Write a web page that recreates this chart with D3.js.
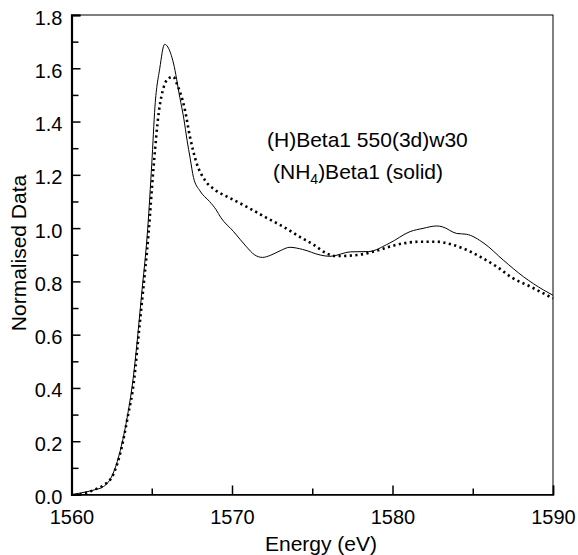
<!DOCTYPE html>
<html>
<head>
<meta charset="utf-8">
<script src="https://cdnjs.cloudflare.com/ajax/libs/d3/7.8.5/d3.min.js"></script>
<style>
  body { margin:0; background:#fff; }
  svg text { font-family:"Liberation Sans", Arial, Helvetica, sans-serif; fill:#000; }
</style>
</head>
<body>
<div id="vis"></div>
<script>
// energy (eV) / normalised absorbance
var solidE = [1560.0,1560.5,1561.4,1562.0,1562.6,1563.1,1563.5,1563.85,1564.1,1564.35,1564.75,1565.0,1565.2,1565.5,1565.8,1566.0,1566.35,1566.75,1567.0,1567.2,1567.4,1567.6,1568.0,1568.6,1569.0,1569.3,1570.1,1570.9,1571.4,1571.9,1572.4,1573.0,1573.6,1574.4,1575.5,1576.1,1577.4,1578.5,1579.8,1581.1,1581.9,1582.75,1583.1,1584.0,1584.6,1585.7,1586.9,1588.15,1589.4,1590.0]
var solidV = [0.0,0.005,0.017,0.03,0.08,0.18,0.3,0.44,0.58,0.74,1.0,1.24,1.456,1.6,1.69,1.68,1.62,1.49,1.41,1.33,1.26,1.19,1.14,1.1,1.07,1.04,0.987,0.93,0.9,0.89,0.898,0.915,0.928,0.92,0.899,0.894,0.911,0.912,0.943,0.987,0.999,1.008,1.005,0.98,0.977,0.943,0.88,0.818,0.768,0.748]

var dotE = [1560.5,1561.0,1561.5,1562.0,1562.6,1563.1,1563.5,1563.9,1564.15,1564.4,1564.8,1565.1,1565.45,1565.75,1566.0,1566.35,1566.55,1567.07,1567.38,1567.8,1568.3,1568.95,1569.7,1570.7,1571.1,1572.2,1573.2,1574.2,1575.1,1575.9,1576.5,1577.8,1579.0,1579.8,1580.7,1581.7,1582.75,1583.6,1584.4,1585.45,1586.5,1587.5,1588.6,1590.0]
var dotV = [0.0,0.008,0.02,0.035,0.075,0.17,0.29,0.43,0.58,0.73,0.98,1.22,1.44,1.53,1.56,1.568,1.544,1.443,1.343,1.243,1.181,1.143,1.118,1.087,1.074,1.037,1.005,0.968,0.937,0.905,0.895,0.899,0.915,0.93,0.943,0.949,0.949,0.94,0.924,0.893,0.855,0.812,0.78,0.736]

var xMajor = [1560,1570,1580,1590]
var xMinor = [1565,1575,1585]
var yMajor = [0,0.2,0.4,0.6,0.8,1.0,1.2,1.4,1.6,1.8]
var yMinor = [0.1,0.3,0.5,0.7,0.9,1.1,1.3,1.5,1.7]
var notes = ["(H)Beta1 550(3d)w30", "(NH", "4", ")Beta1 (solid)"]

var width = 578, height = 555
var x = d3.scaleLinear().domain([1560,1590]).range([71.5,553])
var y = d3.scaleLinear().domain([0,1.8]).range([494.5,15])

var svg = d3.select("#vis").append("svg")
    .attr("width",width).attr("height",height)

//frame, top and right thin
svg.append("rect")
    .attr("x",x(1560)).attr("y",y(1.8))
    .attr("width",x(1590)-x(1560)).attr("height",y(0)-y(1.8))
    .attr("fill","none").attr("stroke","#000").attr("stroke-width",1)

//x axis
var xAxis = svg.append("g").attr("transform","translate(0,"+y(0)+")")
    .call(d3.axisBottom(x).tickValues(xMajor).tickSize(-9).tickPadding(15).tickFormat(d3.format("d")))
xAxis.select(".domain").attr("stroke-width",1.5)
xAxis.selectAll(".tick line").attr("stroke-width",1.5)
xAxis.selectAll("text").attr("font-size",20).attr("font-family",null)
svg.append("g").attr("transform","translate(0,"+y(0)+")")
    .call(d3.axisBottom(x).tickValues(xMinor).tickSize(-6).tickFormat(""))
    .call(function(g){ g.select(".domain").remove(); g.selectAll(".tick line").attr("stroke-width",1.5) })

//y axis
var yAxis = svg.append("g").attr("transform","translate("+x(1560)+",0)")
    .call(d3.axisLeft(y).tickValues(yMajor).tickSize(-9).tickPadding(9).tickFormat(d3.format(".1f")))
yAxis.select(".domain").attr("stroke-width",2.2)
yAxis.selectAll(".tick line").attr("stroke-width",1.5)
yAxis.selectAll("text").attr("font-size",20).attr("font-family",null).attr("dy","0.45em")
svg.append("g").attr("transform","translate("+x(1560)+",0)")
    .call(d3.axisLeft(y).tickValues(yMinor).tickSize(-7).tickFormat(""))
    .call(function(g){ g.select(".domain").remove(); g.selectAll(".tick line").attr("stroke-width",1.5) })

//axis titles
svg.append("text").attr("x",321).attr("y",551)
    .attr("text-anchor","middle").attr("font-size",21)
    .text("Energy (eV)")
svg.append("text")
    .attr("transform","translate(26,253) rotate(-90)")
    .attr("text-anchor","middle").attr("font-size",21)
    .text("Normalised Data")

//curves
var line = d3.line()
    .x(function(d){ return x(d[0]) })
    .y(function(d){ return y(d[1]) })
    .curve(d3.curveMonotoneX)

var dotData = dotE.map(function(e,i){ return [e,dotV[i]] })
var solidData = solidE.map(function(e,i){ return [e,solidV[i]] })

svg.append("path").datum(dotData)
    .attr("d",line).attr("fill","none")
    .attr("stroke","#000").attr("stroke-width",2.6)
    .attr("stroke-dasharray","2.2,3.4")

svg.append("path").datum(solidData)
    .attr("d",line).attr("fill","none")
    .attr("stroke","#000").attr("stroke-width",1)

//labels
svg.append("text").attr("x",267).attr("y",147)
    .attr("font-size",21).text(notes[0])
var t2 = svg.append("text").attr("x",273).attr("y",179).attr("font-size",21)
t2.append("tspan").text(notes[1])
t2.append("tspan").attr("font-size",14).attr("dy",5).text(notes[2])
t2.append("tspan").attr("dy",-5).text(notes[3])
</script>
</body>
</html>
